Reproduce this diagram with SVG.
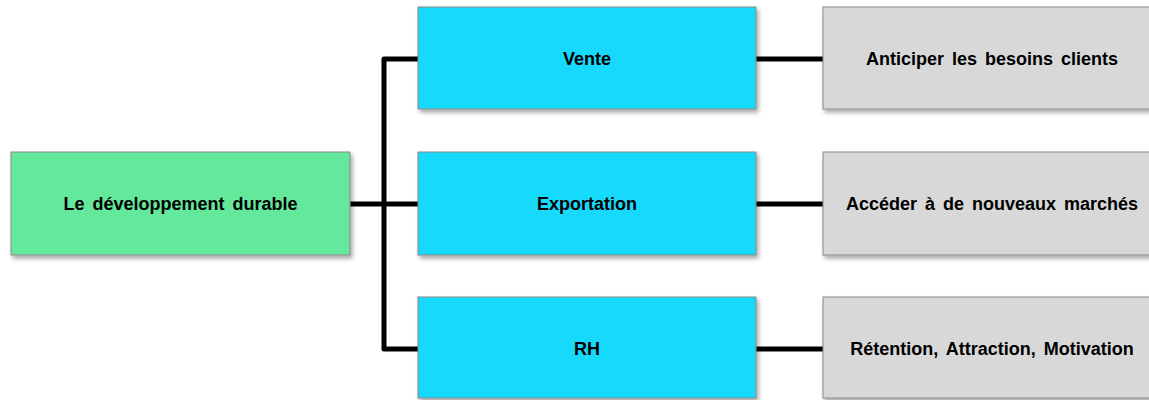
<svg xmlns="http://www.w3.org/2000/svg" width="1149" height="400" viewBox="0 0 1149 400">
<defs>
<filter id="sh" x="-10%" y="-20%" width="130%" height="150%">
<feDropShadow dx="2" dy="3" stdDeviation="2" flood-color="#000" flood-opacity="0.35"/>
</filter>
<style>
.box{stroke:#8a8a8a;stroke-width:1;filter:url(#sh)}
.g{fill:#63E89C}
.b{fill:#17D9FB}
.r{fill:#D8D8D8}
.t{font-family:"Liberation Sans",Arial,sans-serif;font-weight:bold;font-size:18px;word-spacing:3px;fill:#000;text-anchor:middle;dominant-baseline:central}
.c{fill:none;stroke:#000;stroke-width:5;stroke-linejoin:round}
</style>
</defs>
<rect width="1149" height="400" fill="#fff"/>
<g id="connectors">
<path class="c" d="M350 204 H418"/>
<path class="c" d="M418 59 H384 V349 H418"/>
<path class="c" d="M756 59 H823"/>
<path class="c" d="M756 204 H823"/>
<path class="c" d="M756 349 H823"/>
</g>
<g id="node-dd">
<rect class="box g" x="11" y="152" width="339" height="103"/>
<text class="t" x="180.5" y="204">Le développement durable</text>
</g>
<g id="node-vente">
<rect class="box b" x="418" y="7" width="338" height="102"/>
<text class="t" x="587" y="59">Vente</text>
</g>
<g id="node-export">
<rect class="box b" x="418" y="152" width="338" height="103"/>
<text class="t" x="587" y="204">Exportation</text>
</g>
<g id="node-rh">
<rect class="box b" x="418" y="297" width="338" height="101"/>
<text class="t" x="587" y="349">RH</text>
</g>
<g id="node-anticiper">
<rect class="box r" x="823" y="7" width="338" height="102"/>
<text class="t" x="992" y="59">Anticiper les besoins clients</text>
</g>
<g id="node-acceder">
<rect class="box r" x="823" y="152" width="338" height="103"/>
<text class="t" x="992" y="204">Accéder à de nouveaux marchés</text>
</g>
<g id="node-retention">
<rect class="box r" x="823" y="297" width="338" height="101"/>
<text class="t" x="992" y="349">Rétention, Attraction, Motivation</text>
</g>
</svg>
